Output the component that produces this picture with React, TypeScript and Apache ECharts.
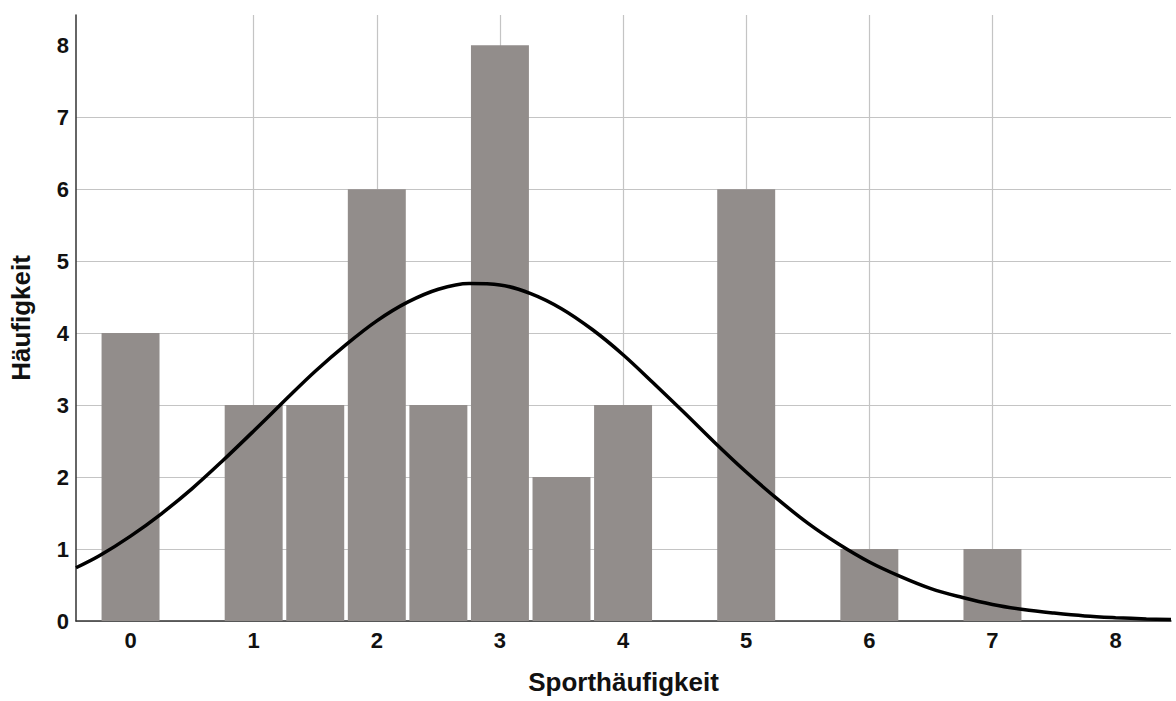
import React, { useEffect, useRef } from "react";
import * as echarts from "echarts";

// Histogram bins (bin centers, width 0.5) and frequencies
const binCenters = [0, 1, 1.5, 2, 2.5, 3, 3.5, 4, 5, 6, 7];
const frequencies = [4, 3, 3, 6, 3, 8, 2, 3, 6, 1, 1];

// tick values
const xTicks = [0, 1, 2, 3, 4, 5, 6, 7, 8];
const yTicks = [0, 1, 2, 3, 4, 5, 6, 7, 8];

// Normal curve
const curveX = [
  -0.443, -0.25, 0, 0.25, 0.5, 0.75, 1, 1.25, 1.5, 1.75, 2, 2.25, 2.5, 2.75, 3,
  3.25, 3.5, 3.75, 4, 4.25, 4.5, 4.75, 5, 5.25, 5.5, 5.75, 6, 6.25, 6.5, 6.75, 7,
  7.25, 7.5, 7.75, 8, 8.25, 8.45,
];
const curveY = [
  0.74, 0.91, 1.18, 1.49, 1.84, 2.23, 2.64, 3.06, 3.47, 3.84, 4.17, 4.43, 4.61,
  4.69, 4.67, 4.55, 4.34, 4.05, 3.7, 3.3, 2.89, 2.47, 2.07, 1.7, 1.36, 1.07,
  0.82, 0.62, 0.45, 0.33, 0.23, 0.16, 0.11, 0.07, 0.046, 0.029, 0.02,
];

const xTitle = "Sporthäufigkeit";
const yTitle = "Häufigkeit";

const FONT = '"Liberation Sans", Arial, sans-serif';
const BAR_COLOR = "#928d8b";
const BIN_WIDTH = 0.5;

export default function App() {
  const ref = useRef<HTMLDivElement>(null);

  useEffect(() => {
    if (!ref.current) return;
    const chart = echarts.init(ref.current, null, { renderer: "svg" });
    const barData = binCenters.map((c, i) => [c, frequencies[i]]);
    const lineData = curveX.map((x, i) => [x, curveY[i]]);

    chart.setOption({
      animation: false,
      backgroundColor: "#ffffff",
      grid: { left: 76, right: 5, top: 15, bottom: 80 },
      xAxis: {
        type: "value",
        min: -0.443,
        max: 8.45,
        name: xTitle,
        nameLocation: "middle",
        nameGap: 48,
        nameTextStyle: { fontFamily: FONT, fontWeight: "bold", fontSize: 26, color: "#111" },
        axisLine: { show: true, onZero: false, lineStyle: { color: "#333", width: 1.5 } },
        axisTick: { show: false, customValues: xTicks },
        axisLabel: {
          fontFamily: FONT,
          fontWeight: "bold",
          fontSize: 22,
          color: "#111",
          margin: 8,
          customValues: xTicks,
        },
        splitLine: {
          show: true,
          showMinLine: false,
          showMaxLine: false,
          lineStyle: { color: "#c4c4c4", width: 1.2 },
        },
      },
      yAxis: {
        type: "value",
        min: 0,
        max: 8.42,
        name: yTitle,
        nameLocation: "middle",
        nameGap: 42,
        nameRotate: 90,
        nameTextStyle: { fontFamily: FONT, fontWeight: "bold", fontSize: 26, color: "#111" },
        axisLine: { show: true, onZero: false, lineStyle: { color: "#333", width: 1.5 } },
        axisTick: { show: false, customValues: yTicks },
        axisLabel: {
          fontFamily: FONT,
          fontWeight: "bold",
          fontSize: 22,
          color: "#111",
          margin: 7,
          customValues: yTicks,
        },
        splitLine: {
          show: true,
          showMaxLine: false,
          lineStyle: { color: "#c4c4c4", width: 1.2 },
        },
      },
      series: [
        {
          type: "custom",
          data: barData,
          z: 2,
          renderItem: (params: any, api: any) => {
            const c = api.value(0);
            const v = api.value(1);
            const tl = api.coord([c - BIN_WIDTH / 2, v]);
            const br = api.coord([c + BIN_WIDTH / 2, 0]);
            const inset = 1.8;
            return {
              type: "rect",
              shape: {
                x: tl[0] + inset,
                y: tl[1],
                width: br[0] - tl[0] - 2 * inset,
                height: br[1] - tl[1],
              },
              style: { fill: BAR_COLOR },
            };
          },
        },
        {
          type: "line",
          data: lineData,
          smooth: 0.35,
          showSymbol: false,
          z: 3,
          lineStyle: { color: "#000", width: 3.5 },
        },
      ],
    });
    return () => chart.dispose();
  }, []);

  return (
    <div
      ref={ref}
      style={{ position: "absolute", left: 0, top: 0, width: 1176, height: 701 }}
    />
  );
}
